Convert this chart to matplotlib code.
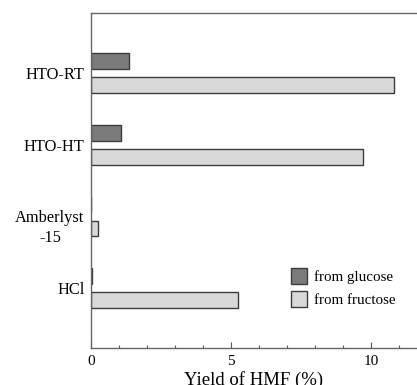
import matplotlib.pyplot as plt
import matplotlib.transforms as mtransforms
import numpy as np

plt.rcParams['font.family'] = ['Liberation Serif', 'DejaVu Serif']

# data (yield of HMF, %)
catalysts = ['HTO-RT', 'HTO-HT', 'Amberlyst\n-15', 'HCl']
glucose = [1.35, 1.06, 0.0, 0.05]
fructose = [10.82, 9.71, 0.24, 5.26]

pos = np.arange(len(catalysts))[::-1]
h = 0.22

fig = plt.figure(figsize=(4.17, 3.85), dpi=100)
ax = fig.add_axes([0.218, 0.096, 0.782, 0.870])

edge = '#3c3c3c'
ax.barh(pos + 0.167, glucose, height=h, color='#7b7b7b', edgecolor=edge, linewidth=1.0, label='from glucose')
ax.barh(pos - 0.167, fructose, height=h, color='#d9d9d9', edgecolor=edge, linewidth=1.0, label='from fructose')

ax.set_xlim(0, 11.64)
ax.set_ylim(-0.833, 3.833)

ax.set_yticks(pos)
ax.set_yticklabels(catalysts, fontsize=11.8, linespacing=1.3)
ax.tick_params(axis='y', length=0, pad=4.5)
for lab in ax.get_yticklabels():
    lab.set_multialignment('center')
    if lab.get_text().startswith('Amberlyst'):
        # the two-line label sits a little lower in the original
        lab.set_transform(lab.get_transform() + mtransforms.ScaledTranslation(0, -0.08, fig.dpi_scale_trans))

ax.set_xticks([0, 5, 10])
ax.set_xticks(np.arange(0, 12, 1), minor=True)
ax.tick_params(axis='x', which='major', direction='in', length=4, width=0.8, color='#555555', labelsize=11, pad=5)
ax.tick_params(axis='x', which='minor', direction='in', length=2.5, width=0.8, color='#555555')
ax.set_xlabel('Yield of HMF (%)', fontsize=13.5, labelpad=2)

for s in ['left', 'bottom', 'top']:
    ax.spines[s].set_color('#666666')
    ax.spines[s].set_linewidth(1.0)
ax.spines['right'].set_visible(False)

ax.legend(loc='lower left', bbox_to_anchor=(0.613, 0.122), frameon=False, fontsize=10.8,
          handlelength=1.1, handleheight=1.3, handletextpad=0.45, labelspacing=0.45,
          borderpad=0, borderaxespad=0)

fig.savefig('out.png', dpi=100)
